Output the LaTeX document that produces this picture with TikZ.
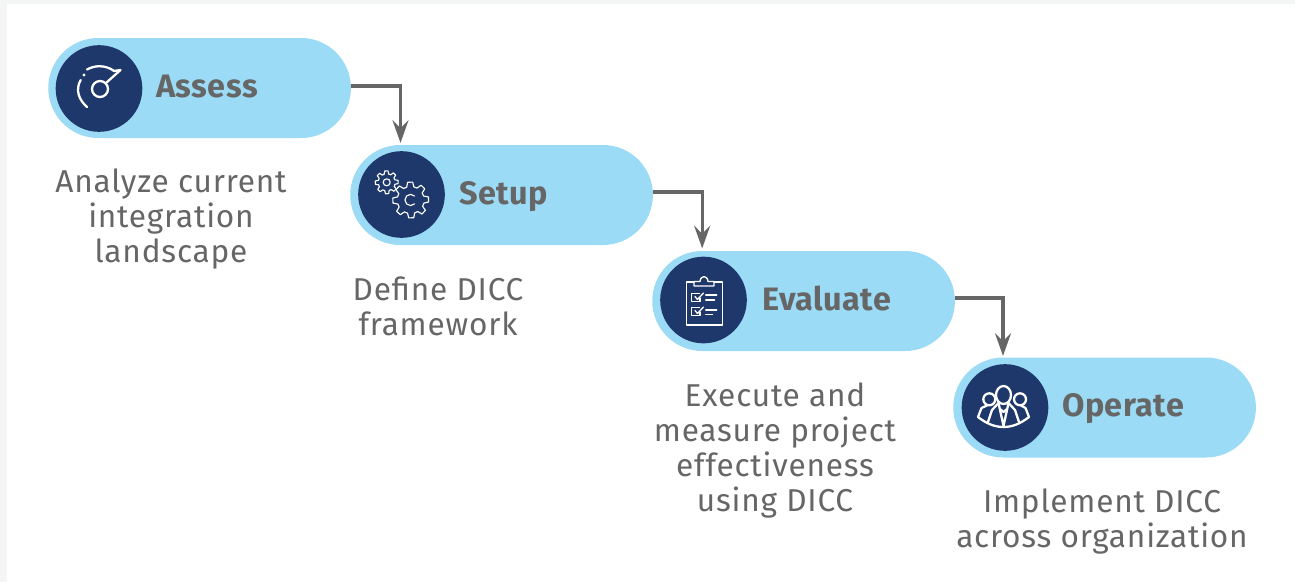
\documentclass[tikz,border=0pt]{standalone}
\usepackage{fontspec}
\setmainfont{Fira Sans}
\usetikzlibrary{arrows.meta}
\definecolor{pillc}{HTML}{9BDBF5}
\definecolor{navyc}{HTML}{1F386B}
\definecolor{greyc}{HTML}{666666}
\definecolor{pagec}{HTML}{F4F6F5}
\newfontfamily\descfont[LetterSpace=2.5]{Fira Sans}
\newfontfamily\headfont[LetterSpace=1.5]{Fira Sans}
\tikzset{
 x=0.75pt,y=-0.75pt,
 pill/.style={fill=pillc,draw=none,rounded corners=37.5pt,minimum width=227pt,minimum height=75pt,inner sep=0pt,anchor=west},
 disc/.style={circle,fill=navyc,draw=none,minimum size=65pt,inner sep=0pt},
 head/.style={anchor=base west,inner sep=0pt,text=greyc,font=\headfont\fontsize{24.3pt}{26pt}\selectfont\bfseries},
 desc/.style={anchor=north,align=center,inner sep=0pt,text=greyc,font=\descfont\fontsize{23.7pt}{26.2pt}\selectfont},
 conn/.style={draw=greyc,line width=2.3pt,-{Stealth[length=17pt,width=12pt,inset=6pt]},shorten >=6pt},
 icon/.style={draw=white,line width=1.7pt,line cap=round,line join=round},
 thin icon/.style={draw=white,line width=0.85pt,line cap=round,line join=round},
}
\newcommand{\gearpath}[5]{% x,y,outer,inner,teeth
 \pgfmathsetmacro{\st}{360/#5}
 \draw[thin icon,fill=navyc] \foreach \i in {1,...,#5}{
   \ifnum\i=1 ({#1+#3*cos(\i*\st-0.22*\st)},{#2+#3*sin(\i*\st-0.22*\st)})\else -- ({#1+#3*cos(\i*\st-0.22*\st)},{#2+#3*sin(\i*\st-0.22*\st)})\fi
   -- ({#1+#3*cos(\i*\st+0.14*\st)},{#2+#3*sin(\i*\st+0.14*\st)})
   -- ({#1+#4*cos(\i*\st+0.3*\st)},{#2+#4*sin(\i*\st+0.3*\st)})
   -- ({#1+#4*cos(\i*\st+0.62*\st)},{#2+#4*sin(\i*\st+0.62*\st)})
 } -- cycle;
}
\begin{document}
\begin{tikzpicture}
\useasboundingbox (0,0) rectangle (1295,582);
\fill[pagec] (0,0) rectangle (1295,582);
\fill[white] (7,4) rectangle (1295,582);
% pills
\node[pill] (assess) at (48,88) {};
\node[pill] (setup) at (350,195) {};
\node[pill] (evaluate) at (652,301) {};
\node[pill] (operate) at (953,407.5) {};
\node[disc] (assessd) at (99,88.5) {};
\node[disc] (setupd) at (401.5,194.5) {};
\node[disc] (evaluated) at (703.5,300) {};
\node[disc] (operated) at (1005,407.5) {};
% labels
\node[head] (l1) at (156,97) {Assess};
\node[head] (l2) at (459,204) {Setup};
\node[head] (l3) at (762,310) {Evaluate};
\node[head] (l4) at (1062,416) {Operate};
% descriptions
\node[desc] (d1) at (171,168.5) {Analyze current\\integration\\landscape};
\node[desc] (d2) at (438,276.5) {Define DICC\\framework};
\node[desc] (d3) at (775,382.5) {Execute and\\measure project\\effectiveness\\using DICC};
\node[desc] (d4) at (1102,488.5) {Implement DICC\\across organization};
% connectors
\draw[conn] ([yshift=1.5pt]assess.east) -| ([xshift=-0.75pt]setupd.north);
\draw[conn] ([yshift=2.25pt]setup.east) -| ([xshift=-1pt]evaluated.north);
\draw[conn] ([yshift=2.25pt]evaluate.east) -| ([xshift=-1.5pt]operated.north);
% gauge icon
\draw[icon] (100,89) circle (8);
\draw[icon] (106,83) -- (120.5,70) -- (113.5,71);
\draw[icon] (87,69.5) .. controls (95,65) and (105,65) .. (113.5,70.5);
\draw[icon] (80.7,80) .. controls (75,90) and (79,100) .. (87,107);
\fill[white] (84,75) circle (1.6);
% gears icon
\gearpath{386.7}{182.3}{11.5}{8.5}{8}
\draw[thin icon] (386.7,182.3) circle (3.5);
\gearpath{410.7}{200}{18}{13.5}{8}
\draw[thin icon] (414.5,196) arc[start angle=-45,end angle=-315,radius=5.6];
% clipboard icon
\draw[thin icon,line width=1pt] (694,282) -- (686.7,282) -- (686.7,325) -- (722.3,325) -- (722.3,282) -- (714,282);
\draw[thin icon,line width=1pt] (694,286) -- (694,281.5) -- (700,281.5) .. controls (700.5,275) and (707.5,275) .. (708,281.5) -- (714,281.5) -- (714,286) -- cycle;
\draw[thin icon,line width=1pt] (699.5,293.3) -- (691.7,293.3) -- (691.7,301.7) -- (700,301.7) -- (700,298);
\draw[thin icon,line width=1pt] (699.5,307.3) -- (691.7,307.3) -- (691.7,315.7) -- (700,315.7) -- (700,312);
\draw[thin icon,line width=1pt] (695,296.5) -- (697.5,299.5) -- (703.5,293);
\draw[thin icon,line width=1pt] (695,310.5) -- (697.5,313.5) -- (703.5,307);
\draw[thin icon,line width=1pt] (705.7,295) -- (716.7,295);
\draw[thin icon,line width=1pt] (705.7,300) -- (714.5,300);
\draw[thin icon,line width=1pt] (705.7,310) -- (716.7,310);
\draw[thin icon,line width=1pt] (705.7,314.5) -- (712.5,314.5);
% people icon
\begin{scope}[icon,line width=1.7pt]
\draw (1003.5,395) ellipse [x radius=7.5,y radius=9];
\draw (989.3,399.3) circle (6);
\draw (1020,399.3) circle (6);
\draw (978,417) .. controls (987,424) and (995,427) .. (1003.5,427) .. controls (1012,427) and (1020,424) .. (1029,417);
\draw (978,417) -- (981.5,408) -- (987,405.5);
\draw (1029,417) -- (1025.5,408) -- (1021,405.5);
\draw (988,422) -- (992,410) -- (998.5,403);
\draw (1019,422) -- (1015,410) -- (1008.5,403);
\draw (998.5,403) -- (1003.5,426) -- (1008.5,403);
\draw (1000,409) -- (1003.5,412) -- (1007,409);
\end{scope}
\end{tikzpicture}
\end{document}
